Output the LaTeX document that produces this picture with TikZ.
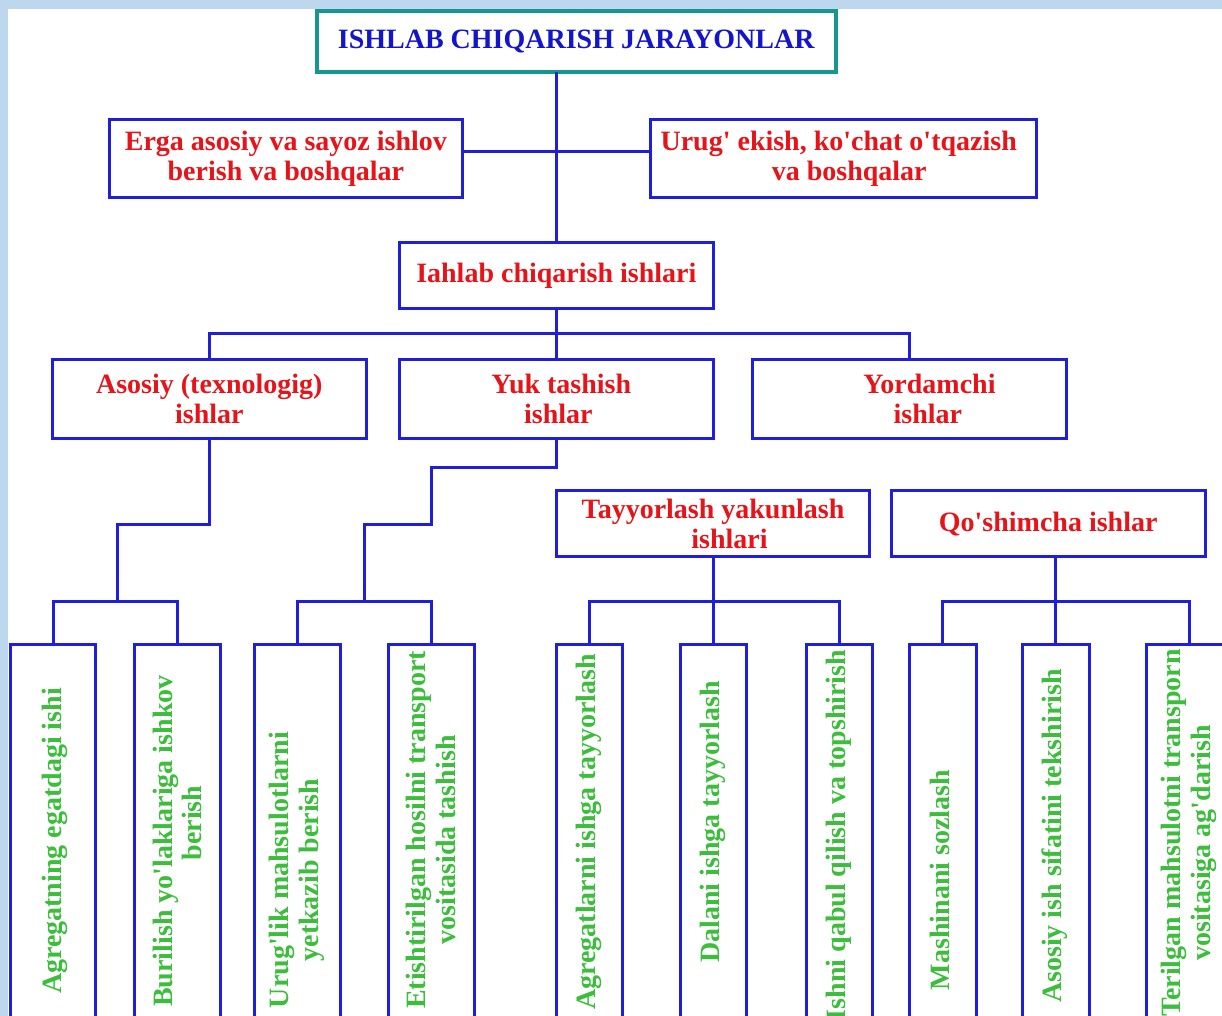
\documentclass[tikz,border=0pt]{standalone}
\usepackage{fontspec}
\setmainfont{Liberation Serif}[Ligatures=TeXOff]
\definecolor{bgblue}{RGB}{189,215,238}
\definecolor{lineblue}{RGB}{30,30,220}
\definecolor{txtred}{RGB}{230,20,25}
\definecolor{txtgreen}{RGB}{60,190,60}
\definecolor{titleblue}{RGB}{20,20,200}
\definecolor{tealline}{RGB}{20,150,145}
\begin{document}
\begin{tikzpicture}[x=1pt,y=-1pt,
  every node/.style={font=\bfseries\fontsize{28}{29.5}\selectfont, inner sep=0pt, outer sep=0pt},
  box/.style={draw=lineblue, line width=3pt, rectangle, text=txtred, align=center},
  leaf/.style={draw=lineblue, line width=3pt, rectangle, anchor=north, minimum height=450pt},
  ltext/.style={rotate=90, text=txtgreen, align=center},
  conn/.style={draw=lineblue, line width=3pt}
]
\useasboundingbox (0,0) rectangle (1222,1016);
\fill[bgblue] (0,0) rectangle (1222,1016);
\fill[white] (8.3,9.3) rectangle (1222,1016);
\clip (0,0) rectangle (1222,1016);

% top level
\node[draw=tealline, line width=4pt, text=titleblue, minimum width=519pt, minimum height=60.7pt] (title) at (576.2,41.3) {ISHLAB CHIQARISH JARAYONLAR};
\node[box, minimum width=353.7pt, minimum height=78pt] (erga) at (285.9,159) {Erga asosiy va sayoz ishlov\\berish va boshqalar};
\node[box, minimum width=386pt, minimum height=78pt] (urug) at (843.7,159) {Urug' ekish, ko'chat o'tqazish\hspace*{10pt}\\\hspace*{11pt}va boshqalar};
\node[box, minimum width=314pt, minimum height=66pt] (iahlab) at (556.3,275.3) {Iahlab chiqarish ishlari};

% second level
\node[box, minimum width=313.5pt, minimum height=79.5pt] (asosiy) at (209.3,398.8) {Asosiy (texnologig)\\ishlar};
\node[box, minimum width=314pt, minimum height=79.5pt] (yuk) at (556.3,398.8) {\hspace*{10pt}Yuk tashish\\\hspace*{4pt}ishlar};
\node[box, minimum width=314.2pt, minimum height=79.5pt] (yordamchi) at (909.4,398.8) {\hspace*{40pt}Yordamchi\\\hspace*{37pt}ishlar};
\node[box, minimum width=313pt, minimum height=66.3pt] (tay) at (713,523.8) {Tayyorlash yakunlash\\\hspace*{33pt}ishlari};
\node[box, minimum width=314pt, minimum height=66.3pt] (qosh) at (1048.2,523.8) {Qo'shimcha ishlar};

% leaves
\node[leaf, minimum width=85.4pt] (l1) at (53,644) {};
\node[leaf, minimum width=86pt] (l2) at (177,644) {};
\node[leaf, minimum width=86pt] (l3) at (297.5,644) {};
\node[leaf, minimum width=86pt] (l4) at (431.5,644) {};
\node[leaf, minimum width=66pt] (l5) at (589.5,644) {};
\node[leaf, minimum width=66.5pt] (l6) at (713.3,644) {};
\node[leaf, minimum width=66.6pt] (l7) at (839.3,644) {};
\node[leaf, minimum width=66.5pt] (l8) at (942.8,644) {};
\node[leaf, minimum width=66.3pt] (l9) at (1055.9,644) {};
\node[leaf, minimum width=86pt] (l10) at (1189.4,644) {};

\node[ltext] (t1) at (55,841) {Agregatning egatdagi ishi};
\node[ltext] (t2) at (177.2,841) {Burilish yo'laklariga ishkov\\\hspace*{36pt}berish};
\node[ltext] (t3) at (296.7,870) {Urug'lik mahsulotlarni\\yetkazib berish};
\node[ltext] (t4) at (430.8,830) {Etishtirilgan hosilni transport\\vositasida tashish\hspace*{20pt}};
\node[ltext] (t5) at (589.2,832) {Agregatlarni ishga tayyorlash};
\node[ltext] (t6) at (713,822) {Dalani ishga tayyorlash};
\node[ltext] (t7) at (839.2,835) {Ishni qabul qilish va topshirish};
\node[ltext] (t8) at (940,880) {Mashinani sozlash};
\node[ltext] (t9) at (1055,836) {Asosiy ish sifatini tekshirish};
\node[ltext] (t10) at (1188.8,833) {Terilgan mahsulotni transporn\\vositasiga ag'darish\hspace*{20pt}};

% connectors
\coordinate (hy) at (557,151.7);
\coordinate (bus1) at (0,333.3);
\coordinate (bus2) at (0,601.7);
\coordinate (a1) at (117,524);
\coordinate (a2) at (117,601.7);
\coordinate (y1) at (431.7,467.3);
\coordinate (y2) at (364.7,524);
\coordinate (y3) at (364.7,601.7);

\draw[conn] (title.south -| iahlab.north) -- (iahlab.north);
\draw[conn] (erga.east |- hy) -- (urug.west |- hy);
\draw[conn] (iahlab.south) -- (yuk.north);
\draw[conn] (asosiy.north) -- (asosiy.north |- bus1) -- (yordamchi.north |- bus1) -- (yordamchi.north);

\draw[conn] (asosiy.south) |- (a1) -- (a2);
\draw[conn] (l1.north) |- (a2) -| (l2.north);

\draw[conn] (yuk.south) |- (y1) |- (y2) -- (y3);
\draw[conn] (l3.north) |- (y3) -| (l4.north);

\draw[conn] (tay.south) -- (tay.south |- l6.north);
\draw[conn] (l5.north) |- (l7.north |- bus2) -- (l7.north);

\draw[conn] (qosh.south -| l9.north) -- (l9.north);
\draw[conn] (l8.north) |- (l10.north |- bus2) -- (l10.north);
\end{tikzpicture}
\end{document}
